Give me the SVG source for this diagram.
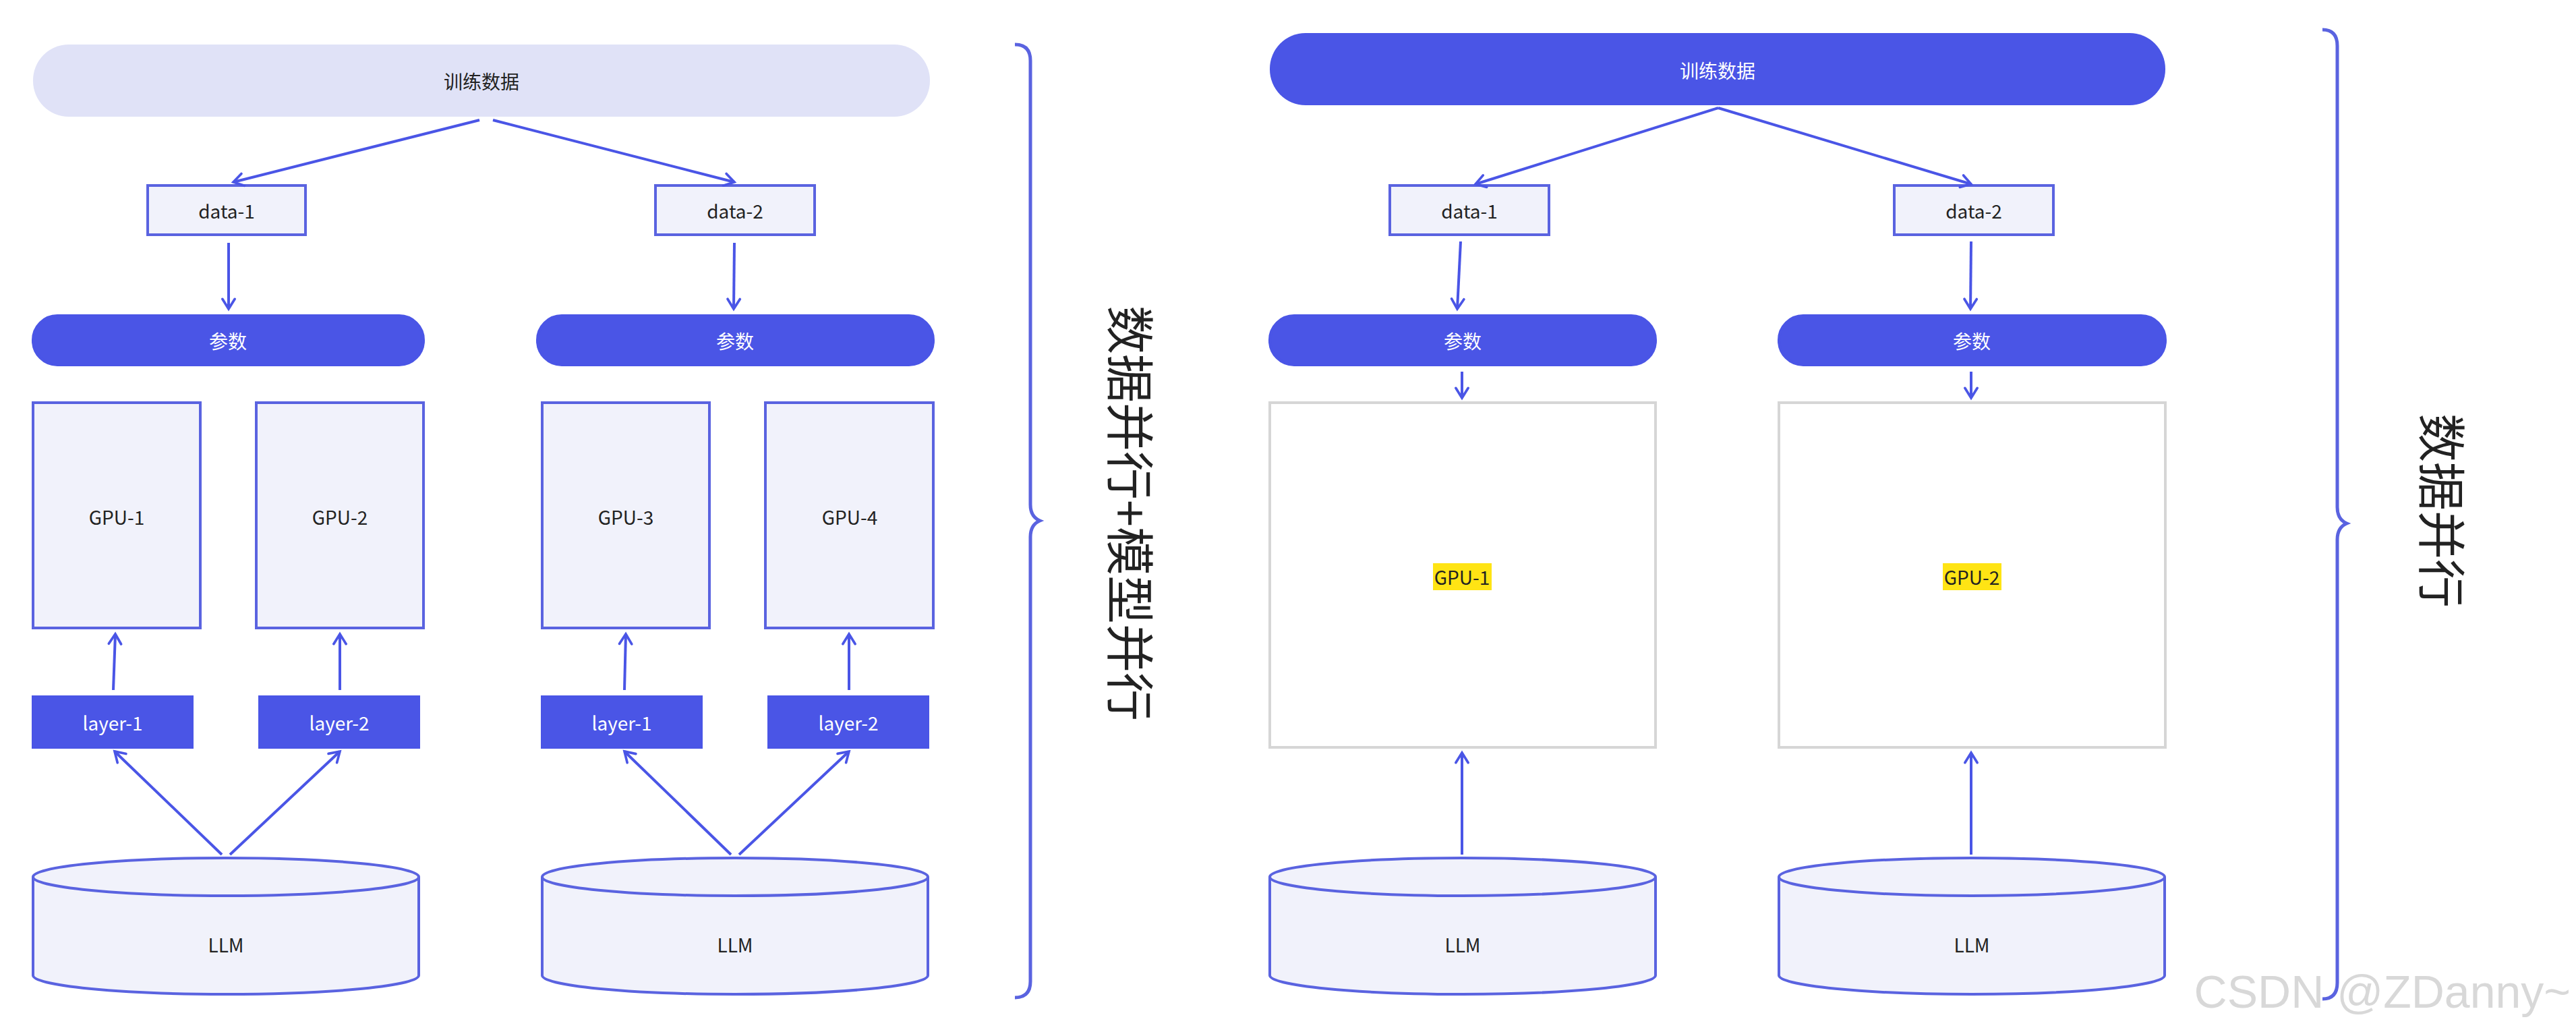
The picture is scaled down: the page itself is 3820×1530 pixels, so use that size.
<svg xmlns="http://www.w3.org/2000/svg" width="3820" height="1530" viewBox="0 0 3820 1530">
<style>
.t{font-family:"Noto Sans CJK SC","Noto Sans",sans-serif;font-size:28px;text-anchor:middle;dominant-baseline:central;fill:#222}
.w{fill:#fff}
.box{fill:#f1f2fb;stroke:#5a63e0;stroke-width:4}
.dark{fill:#4a55e6;stroke:#4a55e6;stroke-width:4}
.gpu{fill:#fff;stroke:#d6d6d6;stroke-width:4}
.c{fill:none;stroke:#4a55e6;stroke-width:4}
.br{fill:none;stroke:#5a63e0;stroke-width:5}
</style>
<defs>
<marker id="a" viewBox="0 0 12 12" refX="11" refY="6" markerWidth="22" markerHeight="22" markerUnits="userSpaceOnUse" orient="auto" style="overflow:visible">
<path d="M3,1 L11,6 L3,11" fill="none" stroke="#4a55e6" stroke-width="2" stroke-linecap="round"/>
</marker>
</defs>
<rect width="3820" height="1530" fill="#fff"/>
<g id="left-data"><rect x="49" y="66" width="1330" height="107" rx="53" fill="#e0e2f7"/><text class="t" x="714" y="120">训练数据</text></g>
<g id="l-data1"><rect class="box" x="219" y="275" width="234" height="73"/><text class="t" x="336" y="312">data-1</text></g>
<g id="l-data2"><rect class="box" x="972" y="275" width="236" height="73"/><text class="t" x="1090" y="312">data-2</text></g>
<g id="l-p1"><rect class="dark" x="49" y="468" width="579" height="73" rx="36"/><text class="t w" x="338" y="505">参数</text></g>
<g id="l-p2"><rect class="dark" x="797" y="468" width="587" height="73" rx="36"/><text class="t w" x="1090" y="505">参数</text></g>
<g id="gpu1"><rect class="box" x="49" y="597" width="248" height="334"/><text class="t" x="173" y="766">GPU-1</text></g>
<g id="gpu2"><rect class="box" x="380" y="597" width="248" height="334"/><text class="t" x="504" y="766">GPU-2</text></g>
<g id="gpu3"><rect class="box" x="804" y="597" width="248" height="334"/><text class="t" x="928" y="766">GPU-3</text></g>
<g id="gpu4"><rect class="box" x="1135" y="597" width="249" height="334"/><text class="t" x="1260" y="766">GPU-4</text></g>
<g id="l-layer1"><rect class="dark" x="49" y="1033" width="236" height="75"/><text class="t w" x="167" y="1071">layer-1</text></g>
<g id="l-layer2"><rect class="dark" x="385" y="1033" width="236" height="75"/><text class="t w" x="503" y="1071">layer-2</text></g>
<g id="l-layer3"><rect class="dark" x="804" y="1033" width="236" height="75"/><text class="t w" x="922" y="1071">layer-1</text></g>
<g id="l-layer4"><rect class="dark" x="1140" y="1033" width="236" height="75"/><text class="t w" x="1258" y="1071">layer-2</text></g>
<g id="l-llm1"><path class="box" d="M49,1300 A286,28 0 0 1 621,1300 V1446 A286,28 0 0 1 49,1446 Z"/><path class="box" d="M49,1300 A286,28 0 0 0 621,1300"/><text class="t" x="335" y="1400">LLM</text></g>
<g id="l-llm2"><path class="box" d="M804,1300 A286,28 0 0 1 1376,1300 V1446 A286,28 0 0 1 804,1446 Z"/><path class="box" d="M804,1300 A286,28 0 0 0 1376,1300"/><text class="t" x="1090" y="1400">LLM</text></g>
<g id="right-data"><rect x="1883" y="49" width="1328" height="107" rx="53" fill="#4a55e6"/><text class="t w" x="2547" y="104">训练数据</text></g>
<g id="r-data1"><rect class="box" x="2061" y="275" width="236" height="73"/><text class="t" x="2179" y="312">data-1</text></g>
<g id="r-data2"><rect class="box" x="2809" y="275" width="236" height="73"/><text class="t" x="2927" y="312">data-2</text></g>
<g id="r-p1"><rect class="dark" x="1883" y="468" width="572" height="73" rx="36"/><text class="t w" x="2169" y="505">参数</text></g>
<g id="r-p2"><rect class="dark" x="2638" y="468" width="573" height="73" rx="36"/><text class="t w" x="2924" y="505">参数</text></g>
<g id="r-gpu1"><rect class="gpu" x="1883" y="597" width="572" height="511"/><rect x="2125" y="835" width="87" height="40" fill="#ffe414"/><text class="t" x="2168" y="855">GPU-1</text></g>
<g id="r-gpu2"><rect class="gpu" x="2638" y="597" width="573" height="511"/><rect x="2881" y="835" width="87" height="40" fill="#ffe414"/><text class="t" x="2924" y="855">GPU-2</text></g>
<g id="r-llm1"><path class="box" d="M1883,1300 A286,28 0 0 1 2455,1300 V1446 A286,28 0 0 1 1883,1446 Z"/><path class="box" d="M1883,1300 A286,28 0 0 0 2455,1300"/><text class="t" x="2169" y="1400">LLM</text></g>
<g id="r-llm2"><path class="box" d="M2638,1300 A286,28 0 0 1 3210,1300 V1446 A286,28 0 0 1 2638,1446 Z"/><path class="box" d="M2638,1300 A286,28 0 0 0 3210,1300"/><text class="t" x="2924" y="1400">LLM</text></g>
<g id="connectors" marker-end="url(#a)">
<path class="c" d="M711,178 L346,270"/>
<path class="c" d="M731,178 L1089,270"/>
<path class="c" d="M339,360 L339,458"/>
<path class="c" d="M1089,360 L1088,458"/>
<path class="c" d="M168,1023 L171,940"/>
<path class="c" d="M504,1023 L504,940"/>
<path class="c" d="M926,1023 L928,940"/>
<path class="c" d="M1259,1023 L1259,940"/>
<path class="c" d="M329,1267 L170,1114"/>
<path class="c" d="M341,1267 L504,1114"/>
<path class="c" d="M1084,1267 L926,1114"/>
<path class="c" d="M1096,1267 L1259,1114"/>
<path class="c" d="M2548,160 L2188,273"/>
<path class="c" d="M2548,160 L2923,273"/>
<path class="c" d="M2166,358 L2161,458"/>
<path class="c" d="M2923,358 L2922,458"/>
<path class="c" d="M2168,551 L2168,590"/>
<path class="c" d="M2923,551 L2923,590"/>
<path class="c" d="M2168,1267 L2168,1116"/>
<path class="c" d="M2923,1267 L2923,1116"/>
</g>
<g id="brace-left"><path class="br" d="M1505,66 Q1528,66 1528,90 V748 Q1528,766 1542,772 Q1528,778 1528,796 V1455 Q1528,1479 1505,1479"/><text x="1680" y="761" transform="rotate(90 1680 761)" style="font-family:'Noto Sans CJK SC',sans-serif;font-size:72px;text-anchor:middle;dominant-baseline:central;fill:#222">数据并行+模型并行</text></g>
<g id="brace-right"><path class="br" d="M3444,44 Q3466,44 3466,68 V752 Q3466,770 3480,776 Q3466,782 3466,800 V1457 Q3466,1481 3444,1481"/><text x="3625" y="757" transform="rotate(90 3625 757)" style="font-family:'Noto Sans CJK SC',sans-serif;font-size:72px;text-anchor:middle;dominant-baseline:central;fill:#222">数据并行</text></g>
<text x="3812" y="1470" style="font-family:'Liberation Sans',sans-serif;font-size:68px;text-anchor:end;dominant-baseline:central;fill:#d8d8d8">CSDN @ZDanny~</text>
</svg>
